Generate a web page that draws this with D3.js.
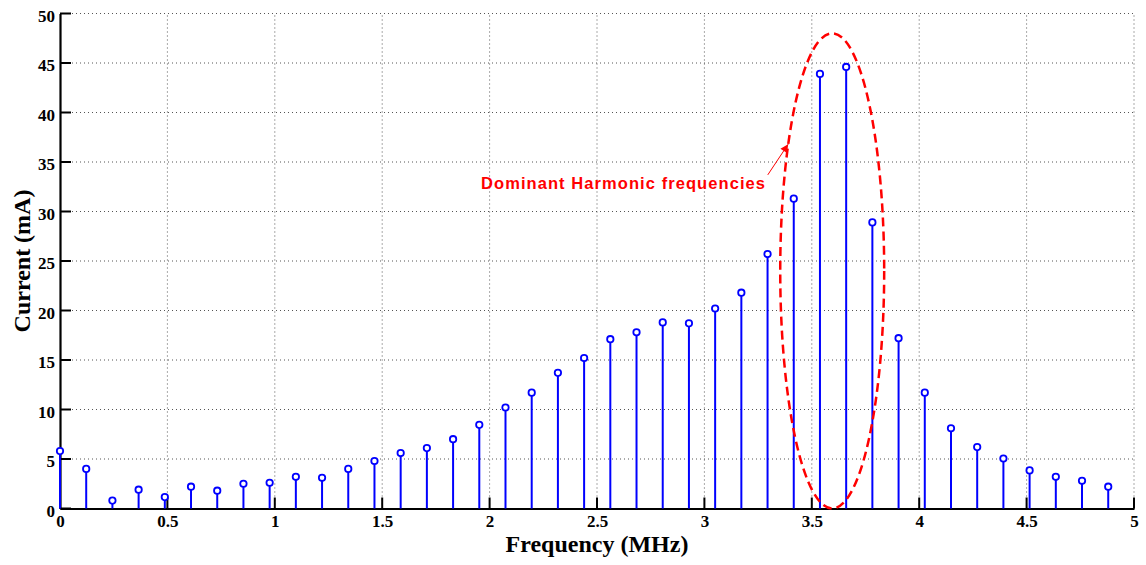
<!DOCTYPE html>
<html><head><meta charset="utf-8">
<script src="https://cdn.jsdelivr.net/npm/d3@7"></script>
<style>body{margin:0;background:#fff}svg{display:block}</style>
</head><body>
<svg id="c" width="1146" height="565"></svg>
<script>
const step = 0.122;
const currents = [5.8, 4.0, 0.8, 1.9, 1.15, 2.2, 1.8, 2.5, 2.6, 3.2, 3.1, 4.0, 4.8, 5.6, 6.1, 7.0, 8.45, 10.2, 11.7, 13.7, 15.2, 17.1, 17.8, 18.8, 18.7, 20.2, 21.8, 25.7, 31.3, 43.9, 44.6, 28.9, 17.2, 11.7, 8.1, 6.2, 5.05, 3.85, 3.2, 2.8, 2.2];
const freqs = currents.map((_, i) => i * step);
const xTicks = [0, 0.5, 1, 1.5, 2, 2.5, 3, 3.5, 4, 4.5, 5];
const yTicks = [0, 5, 10, 15, 20, 25, 30, 35, 40, 45, 50];
const ellipse = {cx: 3.595, cy: 24, rx: 0.242, ry: 24};
const arrow = {x1: 3.295, y1: 33.7, x2: 3.39, y2: 36.8};
const annotation = {text: "Dominant Harmonic frequencies", x: 1.96, y: 32.3};

const svg = d3.select("#c");
const L = 60, R = 1134, T = 13.5, B = 508.5;
const x = d3.scaleLinear().domain([0, 5]).range([L, R]);
const y = d3.scaleLinear().domain([0, 50]).range([B, T]);

// grid
const grid = svg.append("g").attr("stroke", "#555").attr("stroke-width", 1).attr("stroke-dasharray", "1,3");
xTicks.slice(1).forEach(t => grid.append("line").attr("x1", x(t)).attr("x2", x(t)).attr("y1", B).attr("y2", T));
yTicks.slice(1).forEach(t => grid.append("line").attr("x1", L).attr("x2", R).attr("y1", y(t)).attr("y2", y(t)));

// axes
const xAxis = d3.axisBottom(x).tickValues(xTicks).tickSize(0).tickPadding(12).tickFormat(d3.format("~g"));
const gx = svg.append("g").attr("transform", `translate(0,${B})`).call(xAxis);
const yAxis = d3.axisLeft(y).tickValues(yTicks).tickSize(0).tickPadding(5).tickFormat(d3.format("~g"));
const gy = svg.append("g").attr("transform", `translate(${L},0)`).call(yAxis);
[gx, gy].forEach(g => {
  g.select(".domain").attr("stroke", "#000").attr("stroke-width", 2.2);
  g.selectAll("text").attr("font-family", "'Liberation Serif', serif").attr("font-weight", "bold").attr("font-size", 17).attr("fill", "#000");
});
gx.selectAll("text").attr("y", 18.5).attr("dy", 0);
gy.selectAll("text").attr("dy", "0.45em");
// inward ticks
xTicks.forEach(t => svg.append("line").attr("x1", x(t)).attr("x2", x(t)).attr("y1", B).attr("y2", B - 11).attr("stroke", "#000").attr("stroke-width", 2));
yTicks.forEach(t => svg.append("line").attr("x1", L).attr("x2", L + 11).attr("y1", y(t)).attr("y2", y(t)).attr("stroke", "#000").attr("stroke-width", 2));

// stems
const stems = svg.append("g");
stems.selectAll("line").data(currents).join("line")
  .attr("x1", (d, i) => x(freqs[i])).attr("x2", (d, i) => x(freqs[i]))
  .attr("y1", y(0)).attr("y2", d => y(d))
  .attr("stroke", "#0000ff").attr("stroke-width", 2);
stems.selectAll("circle").data(currents).join("circle")
  .attr("cx", (d, i) => x(freqs[i])).attr("cy", d => y(d)).attr("r", 3.2)
  .attr("fill", "#fff").attr("stroke", "#0000ff").attr("stroke-width", 1.8);

// ellipse
svg.append("ellipse")
  .attr("cx", x(ellipse.cx)).attr("cy", y(ellipse.cy))
  .attr("rx", x(ellipse.cx + ellipse.rx) - x(ellipse.cx)).attr("ry", y(0) - y(ellipse.ry))
  .attr("fill", "none").attr("stroke", "#ff0000").attr("stroke-width", 2.5).attr("stroke-dasharray", "9,5");

// arrow
svg.append("defs").append("marker").attr("id", "ah").attr("viewBox", "0 0 10 10")
  .attr("refX", 10).attr("refY", 5).attr("markerWidth", 10).attr("markerHeight", 8)
  .attr("markerUnits", "userSpaceOnUse").attr("orient", "auto")
  .append("path").attr("d", "M0,0 L10,5 L0,10 Z").attr("fill", "#ff0000");
svg.append("line").attr("x1", x(arrow.x1)).attr("y1", y(arrow.y1)).attr("x2", x(arrow.x2)).attr("y2", y(arrow.y2))
  .attr("stroke", "#ff0000").attr("stroke-width", 1).attr("marker-end", "url(#ah)");

svg.append("text").attr("x", x(annotation.x)).attr("y", y(annotation.y))
  .attr("font-family", "'Liberation Sans', Arial, sans-serif").attr("font-weight", "bold").attr("font-size", 16.5)
  .attr("fill", "#ff0000").attr("textLength", 284).attr("lengthAdjust", "spacing").text(annotation.text);

// axis labels
svg.append("text").attr("x", (L + R) / 2).attr("y", 552).attr("text-anchor", "middle")
  .attr("font-family", "'Liberation Serif', serif").attr("font-weight", "bold").attr("font-size", 24).text("Frequency (MHz)");
svg.append("text").attr("transform", `translate(30,${(T + B) / 2}) rotate(-90)`).attr("text-anchor", "middle")
  .attr("font-family", "'Liberation Serif', serif").attr("font-weight", "bold").attr("font-size", 24).text("Current (mA)");
</script>
</body></html>
